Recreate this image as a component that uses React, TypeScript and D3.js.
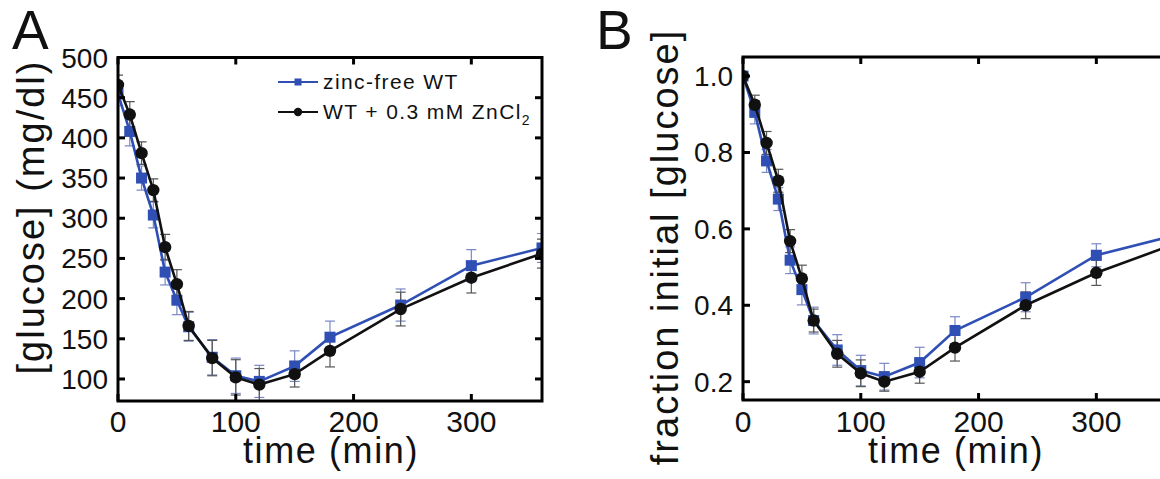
import React from "react";
import * as d3 from "d3";

const times = [0, 10, 20, 30, 40, 50, 60, 80, 100, 120, 150, 180, 240, 300, 360];

// Panel A: glucose (mg/dl)
const zincFreeA = [455, 408, 350, 304, 233, 198, 165, 127, 104, 97, 116, 152, 192, 241, 263];
const zincFreeErrA = [15, 18, 15, 16, 16, 18, 18, 22, 22, 20, 19, 20, 20, 20, 18];
const zincA = [466, 429, 381, 335, 264, 218, 166, 126, 102, 93, 106, 135, 187, 226, 256];
const zincErrA = [12, 16, 14, 14, 16, 18, 18, 22, 22, 20, 16, 20, 21, 19, 18];

// Panel B: fraction of initial glucose
const zincFreeB = [1.0, 0.905, 0.778, 0.678, 0.518, 0.441, 0.36, 0.283, 0.229, 0.213, 0.25, 0.334, 0.421, 0.531, 0.578];
const zincFreeErrB = [0.01, 0.03, 0.03, 0.03, 0.035, 0.04, 0.035, 0.04, 0.04, 0.035, 0.04, 0.036, 0.038, 0.03, 0.03];
const zincB = [1.0, 0.925, 0.825, 0.726, 0.568, 0.47, 0.36, 0.273, 0.222, 0.2, 0.226, 0.289, 0.4, 0.485, 0.553];
const zincErrB = [0.01, 0.025, 0.03, 0.03, 0.03, 0.035, 0.03, 0.035, 0.035, 0.025, 0.03, 0.035, 0.035, 0.033, 0.03];

const xTicks = [0, 100, 200, 300];
const yTicksA = [100, 150, 200, 250, 300, 350, 400, 450, 500];
const yTicksB = [0.2, 0.4, 0.6, 0.8, 1.0];

const legendLabels = ["zinc-free WT", "WT + 0.3 mM ZnCl"];

const FONT = "'Liberation Sans', Arial, sans-serif";
const BLUE = "#2f4fb4";
const BLUE_ERR = "#7a88c6";
const BLACK = "#111";
const BLACK_ERR = "#555";

type PanelProps = {
  id: string;
  left: number;
  right: number;
  top: number;
  bottom: number;
  yDomain: [number, number];
  yTicks: number[];
  yFmt: (v: number) => string;
  blue: number[];
  blueErr: number[];
  black: number[];
  blackErr: number[];
  letter: string;
  letterX: number;
  yTitle: string;
  yTitleX: number;
  yTitleY: number;
};

function Panel(p: PanelProps) {
  const x = d3.scaleLinear().domain([0, 360]).range([p.left, p.right]);
  const y = d3.scaleLinear().domain(p.yDomain).range([p.bottom, p.top]);
  const line = d3
    .line<number>()
    .x((_, i) => x(times[i]))
    .y((d) => y(d));
  const tickLen = 7;
  const clipId = "clip-" + p.id;

  const errBars = (vals: number[], errs: number[], color: string) =>
    vals.map((v, i) => {
      const cx = x(times[i]);
      const y1 = y(v + errs[i]);
      const y2 = y(v - errs[i]);
      return (
        <g key={i} stroke={color} strokeWidth={1.2}>
          <line x1={cx} x2={cx} y1={y1} y2={y2} />
          <line x1={cx - 5} x2={cx + 5} y1={y1} y2={y1} />
          <line x1={cx - 5} x2={cx + 5} y1={y2} y2={y2} />
        </g>
      );
    });

  return (
    <g>
      <defs>
        <clipPath id={clipId}>
          <rect x={p.left} y={p.top} width={p.right - p.left} height={p.bottom - p.top} />
        </clipPath>
      </defs>
      <g clipPath={`url(#${clipId})`}>
        {errBars(p.blue, p.blueErr, BLUE_ERR)}
        {errBars(p.black, p.blackErr, BLACK_ERR)}
        <path d={line(p.blue) || ""} fill="none" stroke={BLUE} strokeWidth={2.6} />
        {p.blue.map((v, i) => (
          <rect key={i} x={x(times[i]) - 5.5} y={y(v) - 5.5} width={11} height={11} fill={BLUE} />
        ))}
        <path d={line(p.black) || ""} fill="none" stroke={BLACK} strokeWidth={2.6} />
        {p.black.map((v, i) => (
          <circle key={i} cx={x(times[i])} cy={y(v)} r={6.2} fill={BLACK} />
        ))}
      </g>
      {/* frame */}
      <rect x={p.left} y={p.top} width={p.right - p.left} height={p.bottom - p.top} fill="none" stroke="#000" strokeWidth={3} />
      {/* x ticks */}
      {xTicks.map((t) => (
        <g key={t} stroke="#000" strokeWidth={3}>
          <line x1={x(t)} x2={x(t)} y1={p.bottom} y2={p.bottom - tickLen} />
          <line x1={x(t)} x2={x(t)} y1={p.top} y2={p.top + tickLen} />
        </g>
      ))}
      {xTicks.map((t) => (
        <text key={"l" + t} x={x(t)} y={432} textAnchor="middle" fontSize={30} fontFamily={FONT} fill="#111">
          {t}
        </text>
      ))}
      {/* y ticks */}
      {p.yTicks.map((t) => (
        <g key={t} stroke="#000" strokeWidth={3}>
          <line x1={p.left} x2={p.left + tickLen} y1={y(t)} y2={y(t)} />
          <line x1={p.right} x2={p.right - tickLen} y1={y(t)} y2={y(t)} />
        </g>
      ))}
      {p.yTicks.map((t) => (
        <text key={"l" + t} x={p.left - 10} y={y(t) + 10} textAnchor="end" fontSize={28} fontFamily={FONT} fill="#111">
          {p.yFmt(t)}
        </text>
      ))}
      {/* axis titles */}
      <text
        x={(p.left + p.right) / 2 + 1}
        y={463}
        textAnchor="middle"
        fontSize={36}
        letterSpacing={1.6}
        fontFamily={FONT}
        fill="#111"
      >
        time (min)
      </text>
      <text
        transform={`translate(${p.yTitleX},${p.yTitleY}) rotate(-90)`}
        textAnchor="middle"
        fontSize={38}
        letterSpacing={2}
        fontFamily={FONT}
        fill="#111"
      >
        {p.yTitle}
      </text>
      <text x={p.letterX} y={49} fontSize={55} fontFamily={FONT} fill="#111">
        {p.letter}
      </text>
    </g>
  );
}

export default function App() {
  return (
    <div style={{ position: "fixed", left: 0, top: 0, width: 1160, height: 479, overflow: "hidden", background: "#fff" }}>
      <svg width={1160} height={479} style={{ display: "block" }}>
        <rect width={1160} height={479} fill="#fff" />
        <Panel
          id="A"
          left={118}
          right={542}
          top={57.5}
          bottom={401}
          yDomain={[72.6, 500]}
          yTicks={yTicksA}
          yFmt={(v) => String(v)}
          blue={zincFreeA}
          blueErr={zincFreeErrA}
          black={zincA}
          blackErr={zincErrA}
          letter="A"
          letterX={12}
          yTitle="[glucose] (mg/dl)"
          yTitleX={44}
          yTitleY={217}
        />
        <Panel
          id="B"
          left={743}
          right={1167}
          top={57}
          bottom={400}
          yDomain={[0.152, 1.05]}
          yTicks={yTicksB}
          yFmt={(v) => v.toFixed(1)}
          blue={zincFreeB}
          blueErr={zincFreeErrB}
          black={zincB}
          blackErr={zincErrB}
          letter="B"
          letterX={596}
          yTitle="fraction initial [glucose]"
          yTitleX={678}
          yTitleY={247}
        />
        {/* legend */}
        <g fontFamily={FONT} fontSize={21} fill="#111" letterSpacing={1.4}>
          <line x1={278} x2={318} y1={82} y2={82} stroke={BLUE} strokeWidth={2} />
          <rect x={294.5} y={78.5} width={7} height={7} fill={BLUE} />
          <text x={323} y={89}>{legendLabels[0]}</text>
          <line x1={278} x2={318} y1={112} y2={112} stroke={BLACK} strokeWidth={2} />
          <circle cx={298} cy={112} r={4.2} fill={BLACK} />
          <text x={323} y={119}>
            {legendLabels[1]}
            <tspan fontSize={14} dy={6} letterSpacing={0}>2</tspan>
          </text>
        </g>
      </svg>
    </div>
  );
}
